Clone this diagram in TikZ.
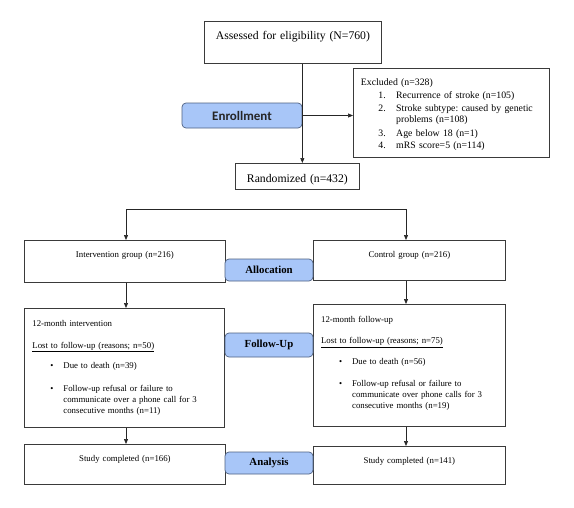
\documentclass[tikz,border=0pt]{standalone}
\usepackage{fontspec}
\setmainfont{Liberation Serif}
\newfontfamily\calibrifont{Carlito}
\usepackage{tikz}
\usetikzlibrary{arrows.meta,positioning,calc}
\definecolor{phasefill}{HTML}{A8C6F8}
\definecolor{phaseline}{HTML}{4F6282}
\definecolor{boxline}{HTML}{3A3A3A}
\newcommand{\exitem}[1]{\hspace*{17.5pt}\makebox[17.8pt][l]{#1}}
\newcommand{\fubullet}{\hspace*{18pt}\makebox[13pt][l]{\textbullet}}
\newcommand{\fuindent}{\hspace*{31pt}}
\frenchspacing

\begin{document}
\begin{tikzpicture}[x=1pt,y=-1pt,
  box/.style={draw=boxline,line width=0.8pt,anchor=north west,inner xsep=0pt,inner ysep=0pt,align=center,font=\fontsize{8.8}{11}\selectfont},
  lbox/.style={box,inner xsep=8pt,align=left},
  phase/.style={rectangle,rounded corners=4pt,draw=phaseline,fill=phasefill,line width=0.7pt,inner sep=0pt,font=\fontsize{10.8}{12}\selectfont\bfseries},
  edge/.style={-{Triangle[length=5pt,width=4pt]},line width=0.7pt,black!85},
  link/.style={line width=0.7pt,black!85}
]
  \fill[white] (0,0) rectangle (574,507);
  \useasboundingbox (0,0) rectangle (574,507);

  % Enrollment
  \node[box,text width=177pt,text height=18pt,text depth=24pt,font=\fontsize{11.7}{13}\selectfont] (assess) at (204,21) {Assessed for eligibility (N=760)};
  \node[lbox,inner xsep=7.5pt,text width=181pt,text height=17pt,text depth=72pt,font=\fontsize{9.8}{11}\selectfont] (excl) at (353,68)
    {Excluded (n=328)\\[2pt]
     \exitem{1.}Recurrence of stroke (n=105)\\[2.5pt]
     \exitem{2.}Stroke subtype: caused by genetic\\
     \hspace*{35.3pt}problems (n=108)\\[2.5pt]
     \exitem{3.}Age below 18 (n=1)\\[1.5pt]
     \exitem{4.}mRS score=5 (n=114)};
  \node[phase,minimum width=120pt,minimum height=25pt,font=\calibrifont\fontsize{13}{14}\selectfont\bfseries,text=black!85] (enrol) at (242,115.5) {Enrollment};
  \node[box,text width=124pt,text height=19pt,text depth=7pt,font=\fontsize{11.7}{13}\selectfont] (rand) at (235,163) {Randomized (n=432)};

  % Allocation
  \node[box,text width=201pt,text height=17pt,text depth=25pt] (intv) at (24,240) {Intervention group (n=216)};
  \node[box,text width=192pt,text height=17pt,text depth=23pt] (ctrl) at (313,240) {Control group (n=216)};
  \node[phase,minimum width=88pt,minimum height=22pt] (alloc) at (269,270) {Allocation};

  % Follow-up
  \node[lbox,text width=184pt,text height=18pt,text depth=101pt] (intvfu) at (24,308)
    {12-month intervention\\[11pt]
     \underline{Lost to follow-up (reasons; n=50)}\\[9.5pt]
     \fubullet Due to death (n=39)\\[11.5pt]
     \fubullet Follow-up refusal or failure to\\
     \fuindent communicate over a phone call for 3\\
     \fuindent consecutive months (n=11)};
  \node[lbox,inner xsep=7.7pt,text width=176.6pt,text height=18pt,text depth=104pt] (ctrlfu) at (313,304)
    {12-month follow-up\\[10.5pt]
     \underline{Lost to follow-up (reasons; n=75)}\\[10pt]
     \fubullet Due to death (n=56)\\[10.5pt]
     \fubullet Follow-up refusal or failure to\\
     \fuindent communicate over phone calls for 3\\
     \fuindent consecutive months (n=19)};
  \node[phase,minimum width=88pt,minimum height=24pt] (followup) at (269,345) {Follow-Up};

  % Analysis
  \node[box,text width=201pt,text height=17pt,text depth=23pt] (intvend) at (24,444) {Study completed (n=166)};
  \node[box,text width=192pt,text height=17pt,text depth=21pt] (ctrlend) at (313,446) {Study completed (n=141)};
  \node[phase,minimum width=88pt,minimum height=22pt] (analysis) at (269,463) {Analysis};

  % Arrows
  \draw[edge] (assess.south -| enrol.east) -- (rand.north -| enrol.east);
  \draw[edge] (enrol.east) -- (excl.west |- enrol.east);

  \coordinate (splitL) at (126,209);
  \coordinate (splitR) at (406,209);
  \draw[link] (splitL) -- (splitR);
  \draw[edge] (splitL) -- (splitL |- intv.north);
  \draw[edge] (splitR) -- (splitR |- ctrl.north);

  \draw[edge] (intv.south -| splitL) -- (intvfu.north -| splitL);
  \draw[edge] (ctrl.south -| splitR) -- (ctrlfu.north -| splitR);
  \draw[edge] (intvfu.south -| splitL) -- (intvend.north -| splitL);
  \draw[edge] (ctrlfu.south -| splitR) -- (ctrlend.north -| splitR);
\end{tikzpicture}
\end{document}
